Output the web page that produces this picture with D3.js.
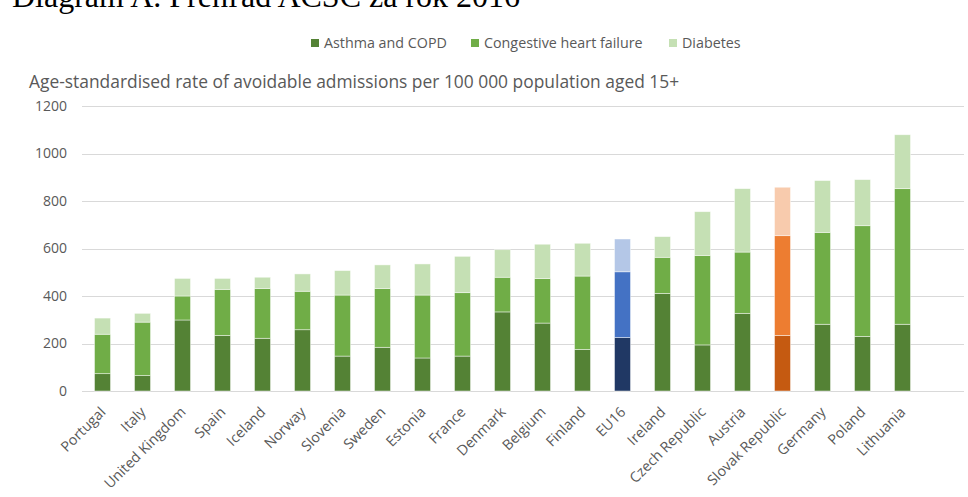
<!DOCTYPE html>
<html lang="sk">
<head>
  <meta charset="UTF-8">
  <title>Diagram A</title>
  <script src="https://d3js.org/d3.v7.min.js"></script>
  <style>
    body { margin: 0; background: #fff; }
    svg { display: block; font-family: "Open Sans", sans-serif; }
  </style>
</head>
<body>
  <svg id="chart" width="968" height="497"></svg>
  <script>
    // data
    const countries = ["Portugal", "Italy", "United Kingdom", "Spain", "Iceland", "Norway",
      "Slovenia", "Sweden", "Estonia", "France", "Denmark", "Belgium", "Finland", "EU16",
      "Ireland", "Czech Republic", "Austria", "Slovak Republic", "Germany", "Poland", "Lithuania"];
    const asthma   = [73, 65, 299, 234, 222, 258, 147, 184, 139, 147, 333, 286, 175, 225, 411, 194, 327, 234, 281, 230, 281];
    const heart    = [166, 225, 101, 194, 210, 162, 257, 248, 265, 267, 146, 188, 309, 277, 152, 377, 258, 420, 387, 466, 571];
    const diabetes = [68, 37, 74, 46, 47, 73, 103, 99, 131, 153, 116, 144, 138, 138, 87, 184, 267, 204, 218, 194, 227];
    const seriesNames = ["Asthma and COPD", "Congestive heart failure", "Diabetes"];
    const yTicks = [0, 200, 400, 600, 800, 1000, 1200];

    const palette = {
      normal: ["#548235", "#70AD47", "#C5E0B4"],
      EU16: ["#203864", "#4472C4", "#B4C7E7"],
      "Slovak Republic": ["#C55A11", "#ED7D31", "#F8CBAD"]
    };

    const svg = d3.select("#chart");

    const x = d3.scaleBand()
      .domain(countries)
      .range([82.5, 922.5])
      .paddingInner(0.6)
      .paddingOuter(0.3);

    const y = d3.scaleLinear()
      .domain([0, 1200])
      .range([391, 106]);

    // title, cut at the top like in the source
    svg.append("text")
      .attr("x", 12)
      .attr("y", 7)
      .attr("font-family", "Liberation Serif, serif")
      .attr("font-size", 32)
      .attr("fill", "#000")
      .text("Diagram A. Prehľad ACSC za rok 2016");

    // legend
    const legendX = [311, 471, 669];
    seriesNames.forEach((name, i) => {
      const g = svg.append("g").attr("transform", `translate(${legendX[i]},39)`);
      g.append("rect").attr("width", 8).attr("height", 8).attr("fill", palette.normal[i]);
      g.append("text")
        .attr("x", 13)
        .attr("y", 8.5)
        .attr("font-size", 14.3)
        .attr("fill", "#595959")
        .text(name);
    });

    // subtitle
    svg.append("text")
      .attr("x", 29)
      .attr("y", 88)
      .attr("font-size", 17.4)
      .attr("fill", "#595959")
      .text("Age-standardised rate of avoidable admissions per 100 000 population aged 15+");

    // gridlines
    svg.append("g")
      .selectAll("line")
      .data(yTicks)
      .join("line")
      .attr("x1", 82)
      .attr("x2", 964)
      .attr("y1", d => Math.round(y(d)) + 0.5)
      .attr("y2", d => Math.round(y(d)) + 0.5)
      .attr("stroke", "#d9d9d9")
      .attr("stroke-width", 1);

    // y axis labels
    const yAxis = d3.axisLeft(y).tickValues(yTicks).tickFormat(d3.format("d")).tickSize(0).tickPadding(0);
    svg.append("g")
      .attr("transform", "translate(67,0)")
      .call(yAxis)
      .call(g => g.select(".domain").remove())
      .call(g => g.selectAll("text")
        .attr("font-family", "Open Sans, sans-serif")
        .attr("font-size", 14)
        .attr("fill", "#595959"));

    // stacked bars
    const rows = countries.map((c, i) => ({
      country: c,
      "Asthma and COPD": asthma[i],
      "Congestive heart failure": heart[i],
      "Diabetes": diabetes[i]
    }));
    const stacked = d3.stack().keys(seriesNames)(rows);

    stacked.forEach((layer, li) => {
      svg.append("g")
        .selectAll("rect")
        .data(layer)
        .join("rect")
        .attr("x", d => x(d.data.country))
        .attr("width", x.bandwidth())
        .attr("y", d => y(d[1]))
        .attr("height", d => y(d[0]) - y(d[1]))
        .attr("fill", d => (palette[d.data.country] || palette.normal)[li])
        .attr("stroke", "#ffffff")
        .attr("stroke-opacity", 0.6)
        .attr("stroke-width", 0.75);
    });

    // x labels rotated
    svg.append("g")
      .selectAll("text")
      .data(countries)
      .join("text")
      .attr("transform", d => `translate(${x(d) + x.bandwidth() / 2 + 4},413) rotate(-45)`)
      .attr("text-anchor", "end")
      .attr("font-size", 14.3)
      .attr("fill", "#595959")
      .text(d => d);
  </script>
</body>
</html>
